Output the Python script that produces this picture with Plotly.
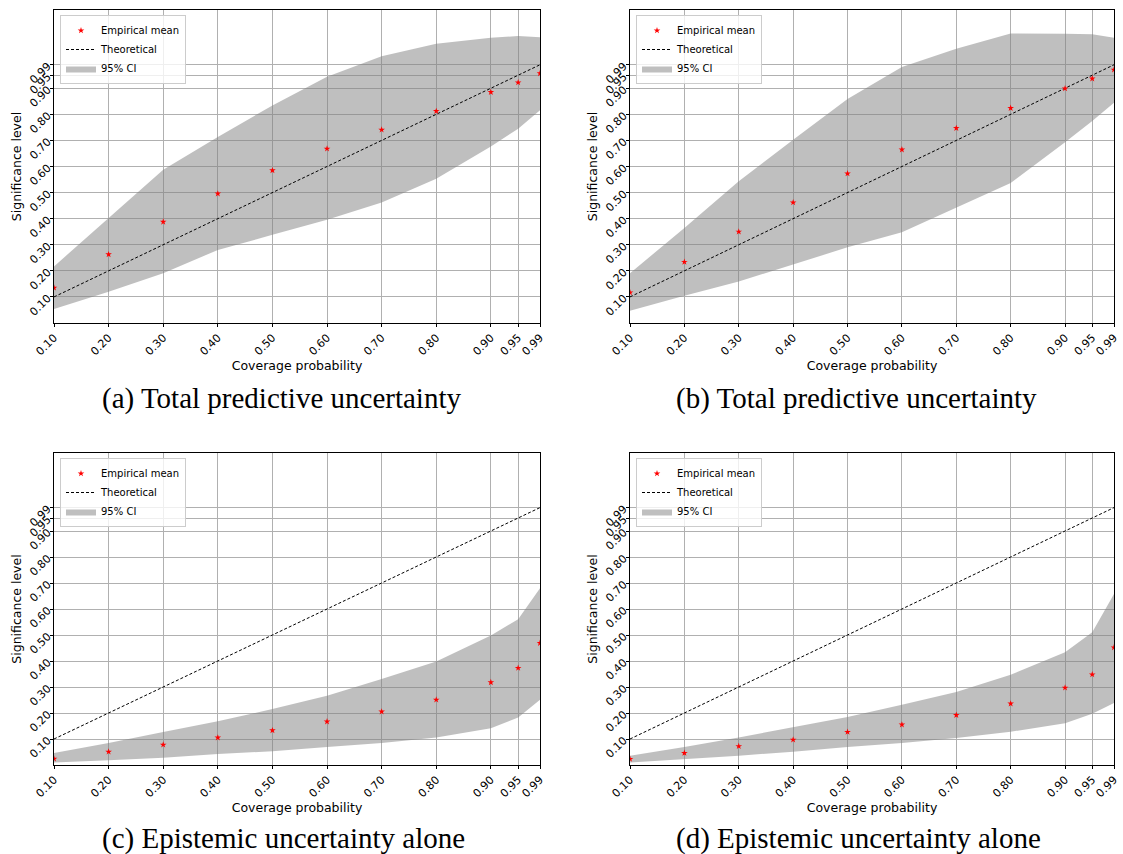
import plotly.graph_objects as go

# ---- data ----
coverage = [0.10, 0.20, 0.30, 0.40, 0.50, 0.60, 0.70, 0.80, 0.90, 0.95, 0.99]
tick_labels = ["0.10", "0.20", "0.30", "0.40", "0.50", "0.60", "0.70", "0.80", "0.90", "0.95", "0.99"]
theoretical = [0.10, 0.20, 0.30, 0.40, 0.50, 0.60, 0.70, 0.80, 0.90, 0.95, 0.99]

mean_a = [0.135, 0.263, 0.388, 0.496, 0.585, 0.668, 0.741, 0.812, 0.885, 0.922, 0.957]
upper_a = [0.217, 0.402, 0.588, 0.713, 0.834, 0.944, 1.023, 1.071, 1.094, 1.100, 1.096]
lower_a = [0.054, 0.120, 0.191, 0.280, 0.338, 0.396, 0.462, 0.553, 0.677, 0.745, 0.816]

mean_b = [0.117, 0.234, 0.350, 0.462, 0.573, 0.665, 0.747, 0.824, 0.899, 0.937, 0.971]
upper_b = [0.191, 0.364, 0.543, 0.703, 0.859, 0.981, 1.051, 1.110, 1.109, 1.107, 1.094]
lower_b = [0.047, 0.104, 0.159, 0.223, 0.290, 0.348, 0.441, 0.537, 0.693, 0.774, 0.844]

mean_c = [0.024, 0.051, 0.078, 0.105, 0.133, 0.167, 0.205, 0.251, 0.318, 0.373, 0.469]
upper_c = [0.046, 0.085, 0.127, 0.168, 0.215, 0.266, 0.331, 0.398, 0.498, 0.561, 0.680]
lower_c = [0.010, 0.018, 0.028, 0.042, 0.053, 0.069, 0.085, 0.106, 0.141, 0.183, 0.251]

mean_d = [0.023, 0.046, 0.072, 0.097, 0.127, 0.155, 0.192, 0.236, 0.297, 0.348, 0.452]
upper_d = [0.036, 0.069, 0.106, 0.145, 0.185, 0.232, 0.281, 0.347, 0.434, 0.511, 0.658]
lower_d = [0.010, 0.023, 0.036, 0.051, 0.069, 0.085, 0.104, 0.128, 0.161, 0.197, 0.238]

captions = ["(a) Total predictive uncertainty", "(b) Total predictive uncertainty",
            "(c) Epistemic uncertainty alone", "(d) Epistemic uncertainty alone"]

# the page's body margin is removed by a post script, so the figure fills the window
W, H = 1123, 854

panels = [
    dict(mean=mean_a, upper=upper_a, lower=lower_a, px=(54, 540), py=(10, 323)),
    dict(mean=mean_b, upper=upper_b, lower=lower_b, px=(630, 1114), py=(10, 323)),
    dict(mean=mean_c, upper=upper_c, lower=lower_c, px=(54, 540), py=(453, 765)),
    dict(mean=mean_d, upper=upper_d, lower=lower_d, px=(630, 1114), py=(453, 765)),
]
caption_pos = [(281, 399), (856, 399), (283, 838), (858, 838)]


def fx(px):
    return px / W


def fy(py):
    return 1 - py / H


fig = go.Figure()
layout = dict(
    width=W, height=H,
    margin=dict(l=0, r=0, t=0, b=0),
    paper_bgcolor="white", plot_bgcolor="white",
    font=dict(family="DejaVu Sans", size=11, color="black"),
    annotations=[],
)

for i, p in enumerate(panels):
    n = "" if i == 0 else str(i + 1)
    xa, ya = "x" + n, "y" + n
    lg = "legend" + n
    # CI band
    fig.add_trace(go.Scatter(
        x=coverage + coverage[::-1], y=p["upper"] + p["lower"][::-1],
        fill="toself", fillcolor="rgba(128,128,128,0.5)", line=dict(width=0),
        mode="lines", name="95% CI", xaxis=xa, yaxis=ya, legend=lg,
        legendrank=3, hoverinfo="skip"))
    # theoretical
    fig.add_trace(go.Scatter(
        x=coverage, y=theoretical, mode="lines",
        line=dict(color="black", width=1, dash="3px,2px"),
        name="Theoretical", xaxis=xa, yaxis=ya, legend=lg, legendrank=2))
    # empirical mean
    fig.add_trace(go.Scatter(
        x=coverage, y=p["mean"], mode="markers",
        marker=dict(symbol="star", color="red", size=5, line=dict(width=0)),
        name="Empirical mean", xaxis=xa, yaxis=ya, legend=lg, legendrank=1))

    x0, x1 = p["px"]
    y0, y1 = p["py"]
    axis_common = dict(
        showline=True, mirror=True, linecolor="black", linewidth=1,
        showgrid=True, gridcolor="#b0b0b0", gridwidth=1,
        ticks="outside", ticklen=3, tickcolor="black",
        tickvals=coverage, ticktext=tick_labels, tickangle=-45,
        tickfont=dict(size=11, family="DejaVu Sans"), zeroline=False,
        automargin=False,
    )
    layout["xaxis" + n] = dict(
        axis_common, domain=[fx(x0), fx(x1)], range=[0.10, 0.99],
        anchor=ya,
        title=dict(text="Coverage probability", font=dict(size=12.5), standoff=0))
    layout["yaxis" + n] = dict(
        axis_common, domain=[fy(y1), fy(y0)], range=[0.0, 1.2],
        anchor=xa,
        title=dict(text="Significance level", font=dict(size=12.5), standoff=2))
    layout[lg] = dict(
        x=fx(x0 + 6), y=fy(y0 + 5), xanchor="left", yanchor="top",
        bgcolor="rgba(255,255,255,0.8)", bordercolor="#cccccc", borderwidth=1,
        font=dict(size=10, family="DejaVu Sans"), tracegroupgap=0,
        traceorder="normal", itemwidth=30)
    cx, cy = caption_pos[i]
    layout["annotations"].append(dict(
        text=captions[i], x=fx(cx), y=fy(cy), xref="paper", yref="paper",
        xanchor="center", yanchor="middle", showarrow=False,
        font=dict(family="Liberation Serif", size=29, color="black")))

fig.update_layout(**layout)
fig.write_html(
    "out.html",
    config={"displayModeBar": False},
    post_script="document.body.style.margin='0';document.body.style.overflow='hidden';",
)
